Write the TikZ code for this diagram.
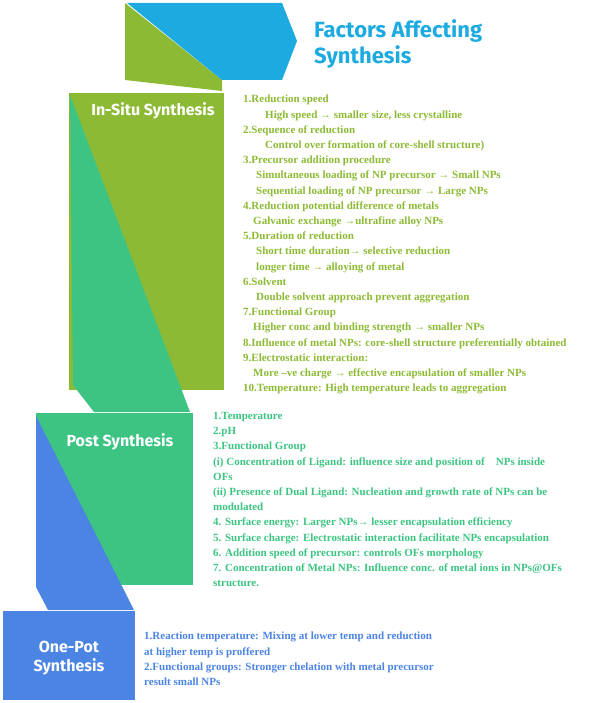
\documentclass[tikz,border=0pt]{standalone}
\usepackage{fontspec}
\setmainfont{Liberation Serif}
\newfontfamily\headfont{Fira Sans}
\definecolor{olive}{HTML}{8DBA35}
\definecolor{teal}{HTML}{3DC482}
\definecolor{skyblue}{HTML}{1DAAE0}
\definecolor{royal}{HTML}{4B84E3}
\tikzstyle{heading}=[
text=white,
font=\headfont\bfseries\fontsize{16}{19}\selectfont,
align=center,
inner sep=0pt,
]
\tikzstyle{factor-list}=[
anchor=north west,
align=left,
inner sep=0pt,
font=\bfseries\fontsize{11}{15.2}\selectfont,
]

\begin{document}
\begin{tikzpicture}[x=1pt,y=-1pt]
        \useasboundingbox (0,0) rectangle (614,703);
        % folded ribbon
        \fill[olive] (125,3) -- (222,80) -- (222,91) -- (125,80) -- cycle;
        \fill[skyblue] (127,3) -- (282,3) -- (297,41) -- (282,80) -- (222,80) -- cycle;
        \fill[olive] (69,93) rectangle (224,390);
        \fill[teal] (70,95) -- (190,412) -- (94,412) -- (73,385) -- cycle;
        \fill[teal] (36,413) rectangle (193,585);
        \fill[royal] (36,416) -- (134,610) -- (48,610) -- (36,587) -- cycle;
        \fill[royal] (3,611) rectangle (135,700);

        \node[anchor=west, text=skyblue, align=left, inner sep=0pt,
          font=\headfont\bfseries\fontsize{22}{26}\selectfont] (title) at (314,44) {Factors Affecting\\Synthesis};
        \node[heading] (insitu) at (153,111) {In-Situ Synthesis};
        \node[heading] (post) at (120,442) {Post Synthesis};
        \node[heading] (onepot) at (69,658) {One-Pot\\Synthesis};

        \node[factor-list, text=olive] (insitu-list) at (243,95) {%
          1.Reduction speed\\
          \hspace*{22pt}High speed → smaller size, less crystalline\\
          2.Sequence of reduction\\
          \hspace*{22pt}Control over formation of core-shell structure)\\
          3.Precursor addition procedure\\
          \hspace*{13pt}Simultaneous loading of NP precursor → Small NPs\\
          \hspace*{13pt}Sequential loading of NP precursor → Large NPs\\
          4.Reduction potential difference of metals\\
          \hspace*{10pt}Galvanic exchange →ultrafine alloy NPs\\
          5.Duration of reduction\\
          \hspace*{13pt}Short time duration→ selective reduction\\
          \hspace*{13pt}longer time → alloying of metal\\
          6.Solvent\\
          \hspace*{13pt}Double solvent approach prevent aggregation\\
          7.Functional Group\\
          \hspace*{10pt}Higher conc and binding strength → smaller NPs\\
          8.Influence of metal NPs: core-shell structure preferentially obtained\\
          9.Electrostatic interaction:\\
          \hspace*{10pt}More –ve charge → effective encapsulation of smaller NPs\\
          10.Temperature: High temperature leads to aggregation};
        \node[factor-list, text=teal] (post-list) at (213,412) {%
          1.Temperature\\
          2.pH\\
          3.Functional Group\\
          (i) Concentration of Ligand: influence size and position of \ \ \ NPs inside\\
          OFs\\
          (ii) Presence of Dual Ligand: Nucleation and growth rate of NPs can be\\
          modulated\\
          4. Surface energy: Larger NPs→ lesser encapsulation efficiency\\
          5. Surface charge: Electrostatic interaction facilitate NPs encapsulation\\
          6. Addition speed of precursor: controls OFs morphology\\
          7. Concentration of Metal NPs: Influence conc. of metal ions in NPs@OFs\\
          structure.};
        \node[factor-list, text=royal] (onepot-list) at (144,632) {%
          1.Reaction temperature: Mixing at lower temp and reduction\\
          at higher temp is proffered\\
          2.Functional groups: Stronger chelation with metal precursor\\
          result small NPs};
\end{tikzpicture}
\end{document}
